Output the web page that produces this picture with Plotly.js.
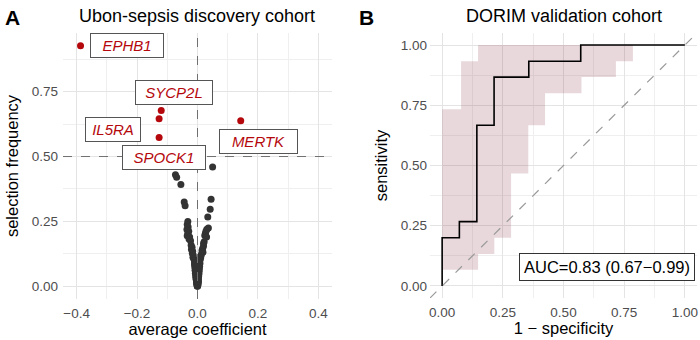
<!DOCTYPE html>
<html>
<head>
<meta charset="utf-8">
<script src="https://cdn.plot.ly/plotly-3.0.1.min.js"></script>
<style>html,body{margin:0;padding:0;background:#fff;}#chart{width:700px;height:340px;}</style>
</head>
<body>
<div id="chart"></div>
<script>
// ---------- Panel A data ----------
const geneNames = ["EPHB1", "SYCP2L", "IL5RA", "SPOCK1", "MERTK"];
const geneCoef  = [-0.387, -0.120, -0.127, -0.127, 0.143];
const geneFreq  = [0.927, 0.677, 0.646, 0.573, 0.638];

const otherCoef = [
  0.050, -0.073, -0.069, -0.055, -0.044, -0.041, 0.045, 0.042, 0.034,
  -0.032, -0.034, -0.031, -0.035, -0.029, -0.032, -0.034, -0.026, -0.028, -0.023,
  0.036, 0.031, 0.028, 0.026, 0.024, 0.030, 0.022, 0.020,
  -0.021, -0.018, -0.020, -0.016, -0.017, -0.014, -0.015, -0.012,
  0.020, 0.017, 0.015, 0.018, 0.013, 0.011, 0.010,
  -0.010, -0.009, -0.010, -0.008, -0.009, -0.007, -0.008, -0.006, -0.007, -0.005,
  -0.006, -0.004, -0.005, -0.004, -0.003, -0.003, -0.002, -0.002, -0.001, -0.001,
  0.008, 0.007, 0.008, 0.006, 0.007, 0.005, 0.006, 0.004, 0.005, 0.004,
  0.004, 0.003, 0.003, 0.002, 0.003, 0.002, 0.001, 0.001, 0.000,
  0.000, -0.001, 0.001, 0.000, -0.001, 0.001, 0.000, -0.001, 0.001, 0.000,
  -0.002, 0.002, 0.000, -0.003, 0.002
];
const otherFreq = [
  0.460, 0.430, 0.420, 0.392, 0.325, 0.310, 0.335, 0.297, 0.267,
  0.250, 0.238, 0.228, 0.219, 0.212, 0.203, 0.195, 0.190, 0.182, 0.175,
  0.225, 0.220, 0.212, 0.203, 0.196, 0.190, 0.172, 0.165,
  0.158, 0.150, 0.142, 0.135, 0.127, 0.120, 0.112, 0.105,
  0.155, 0.146, 0.138, 0.131, 0.123, 0.115, 0.108,
  0.098, 0.092, 0.086, 0.080, 0.074, 0.068, 0.062, 0.056, 0.050, 0.045,
  0.040, 0.035, 0.030, 0.025, 0.020, 0.016, 0.012, 0.008, 0.005, 0.002,
  0.100, 0.094, 0.088, 0.082, 0.076, 0.070, 0.064, 0.058, 0.052, 0.046,
  0.040, 0.034, 0.028, 0.022, 0.018, 0.013, 0.009, 0.005, 0.002,
  0.000, 0.001, 0.003, 0.006, 0.010, 0.015, 0.020, 0.030, 0.040, 0.050,
  0.060, 0.070, 0.080, 0.090, 0.100
];
const aXTickVals = [-0.4, -0.2, 0, 0.2, 0.4];
const aXTickText = ["\u22120.4", "\u22120.2", "0.0", "0.2", "0.4"];
const aYTickVals = [0, 0.25, 0.5, 0.75];
const aYTickText = ["0.00", "0.25", "0.50", "0.75"];

// ---------- Panel B data ----------
const rocFpr = [0, 0, 0.071, 0.143, 0.214, 0.357, 0.571, 1.0];
const rocTpr = [0, 0.200, 0.267, 0.667, 0.867, 0.933, 1.0, 1.0];
const ciFpr  = [0, 0.078, 0.148, 0.215, 0.284, 0.355, 0.424, 0.574, 0.716, 0.786, 1.0];
const ciLow  = [0.067, 0.067, 0.133, 0.200, 0.467, 0.667, 0.800, 0.867, 0.933, 1.0, 1.0];
const ciHigh = [0.733, 0.933, 1.0, 1.0, 1.0, 1.0, 1.0, 1.0, 1.0, 1.0, 1.0];
const aucText = "AUC=0.83 (0.67\u22120.99)";
const bTickVals = [0, 0.25, 0.5, 0.75, 1];
const bTickText = ["0.00", "0.25", "0.50", "0.75", "1.00"];

// ---------- styles ----------
const FONT = "Liberation Sans, Arial, Helvetica, sans-serif";
const RED = "#B5080D";
const GRID = "#E4E4E4";
const MINOR = "#EFEFEF";
const TICKC = "#4D4D4D";
// label offsets (px) relative to each highlighted point, and label box text widths
const labelAx = [46, 13, -46, 5, 18];
const labelAy = [0, -18, 11, 20, 21];
const labelW  = [64, 68, 46, 74, 69];

const traces = [
  {x: otherCoef, y: otherFreq, type: "scatter", mode: "markers",
   marker: {color: "#333333", size: 7}, xaxis: "x", yaxis: "y", hoverinfo: "skip"},
  {x: geneCoef, y: geneFreq, type: "scatter", mode: "markers",
   marker: {color: RED, size: 7}, xaxis: "x", yaxis: "y"},
  {x: ciFpr, y: ciLow, type: "scatter", mode: "lines", line: {shape: "hv", width: 0, color: "rgba(0,0,0,0)"},
   xaxis: "x2", yaxis: "y2", hoverinfo: "skip"},
  {x: ciFpr, y: ciHigh, type: "scatter", mode: "lines", line: {shape: "hv", width: 0, color: "rgba(0,0,0,0)"},
   fill: "tonexty", fillcolor: "rgba(139,58,80,0.2)", xaxis: "x2", yaxis: "y2", hoverinfo: "skip"},
  {x: rocFpr, y: rocTpr, type: "scatter", mode: "lines", line: {shape: "hv", width: 1.6, color: "#000"},
   xaxis: "x2", yaxis: "y2"}
];

const annotations = [
  {text: "<b>A</b>", xref: "paper", yref: "paper", x: 3/700, y: 1 - 17/340, xanchor: "left", yanchor: "middle",
   showarrow: false, font: {family: FONT, size: 21, color: "#000"}},
  {text: "<b>B</b>", xref: "paper", yref: "paper", x: 357/700, y: 1 - 17/340, xanchor: "left", yanchor: "middle",
   showarrow: false, font: {family: FONT, size: 21, color: "#000"}},
  {text: "Ubon-sepsis discovery cohort", xref: "paper", yref: "paper", x: 197/700, y: 1 - 16/340,
   xanchor: "center", yanchor: "middle", showarrow: false, font: {family: FONT, size: 18, color: "#000"}},
  {text: "DORIM validation cohort", xref: "paper", yref: "paper", x: 564/700, y: 1 - 16/340,
   xanchor: "center", yanchor: "middle", showarrow: false, font: {family: FONT, size: 18, color: "#000"}},
  {text: aucText, xref: "x2", yref: "y2", x: 0.679, y: 0.079, xanchor: "center", yanchor: "middle",
   showarrow: false, bgcolor: "#fff", bordercolor: "#333", borderwidth: 1, borderpad: 4,
   font: {family: FONT, size: 16.5, color: "#000"}}
];
geneNames.forEach((g, i) => {
  annotations.push({
    text: "<i>" + g + "</i>", xref: "x", yref: "y", x: geneCoef[i], y: geneFreq[i],
    ax: labelAx[i], ay: labelAy[i], showarrow: true, arrowcolor: "rgba(0,0,0,0)", arrowwidth: 0.1,
    width: labelW[i], height: 15, align: "center", valign: "middle",
    bgcolor: "#fff", bordercolor: "#555", borderwidth: 1, borderpad: 4,
    font: {family: FONT, size: 15, color: RED}
  });
});

const shapes = [
  {type: "line", xref: "x", yref: "paper", x0: 0, x1: 0, y0: 1 - 299/340, y1: 1 - 33/340,
   line: {color: "#707070", width: 1, dash: "dash"}, layer: "above"},
  {type: "line", xref: "paper", yref: "y", x0: 63/700, x1: 332/700, y0: 0.5, y1: 0.5,
   line: {color: "#707070", width: 1, dash: "dash"}, layer: "above"},
  {type: "line", xref: "x2", yref: "y2", x0: -0.05, y0: -0.05, x1: 1.05, y1: 1.05,
   line: {color: "#999999", width: 1.2, dash: "dash"}, layer: "above"}
];

function axisBase() {
  return {showgrid: true, gridcolor: GRID, gridwidth: 1, zeroline: false, showline: false, ticks: "",
          tickfont: {family: FONT, size: 13.5, color: TICKC}, tickmode: "array", fixedrange: true};
}

const layout = {
  width: 700, height: 340,
  margin: {l: 0, r: 0, t: 0, b: 0},
  paper_bgcolor: "#fff", plot_bgcolor: "#fff",
  showlegend: false,
  font: {family: FONT},
  xaxis: Object.assign(axisBase(), {
    domain: [63/700, 332/700], range: [-0.445, 0.445], tickvals: aXTickVals, ticktext: aXTickText,
    ticklabelstandoff: 4,
    minor: {tickmode: "array", tickvals: [-0.3, -0.1, 0.1, 0.3], showgrid: true, gridcolor: MINOR, gridwidth: 1, ticks: ""},
    title: {text: "average coefficient", font: {family: FONT, size: 16.5, color: "#000"}, standoff: 3},
    anchor: "y", automargin: false
  }),
  yaxis: Object.assign(axisBase(), {
    domain: [1 - 299/340, 1 - 33/340], range: [-0.049, 0.976], tickvals: aYTickVals, ticktext: aYTickText,
    ticklabelstandoff: 4,
    minor: {tickmode: "array", tickvals: [0.125, 0.375, 0.625, 0.875], showgrid: true, gridcolor: MINOR, gridwidth: 1, ticks: ""},
    title: {text: "selection frequency", font: {family: FONT, size: 16.5, color: "#000"}, standoff: 8},
    anchor: "x", automargin: false
  }),
  xaxis2: Object.assign(axisBase(), {
    domain: [430/700, 697/700], range: [-0.05, 1.05], tickvals: bTickVals, ticktext: bTickText,
    ticklabelstandoff: 4,
    minor: {tickmode: "array", tickvals: [0.125, 0.375, 0.625, 0.875], showgrid: true, gridcolor: MINOR, gridwidth: 1, ticks: ""},
    title: {text: "1 \u2212 specificity", font: {family: FONT, size: 16.5, color: "#000"}, standoff: 3},
    anchor: "y2", automargin: false
  }),
  yaxis2: Object.assign(axisBase(), {
    domain: [1 - 298/340, 1 - 33/340], range: [-0.05, 1.05], tickvals: bTickVals, ticktext: bTickText,
    ticklabelstandoff: 2,
    minor: {tickmode: "array", tickvals: [0.125, 0.375, 0.625, 0.875], showgrid: true, gridcolor: MINOR, gridwidth: 1, ticks: ""},
    title: {text: "sensitivity", font: {family: FONT, size: 16.5, color: "#000"}, standoff: 8},
    anchor: "x2", automargin: false
  }),
  annotations: annotations,
  shapes: shapes
};

Plotly.newPlot("chart", traces, layout, {staticPlot: true, displayModeBar: false});
</script>
</body>
</html>
